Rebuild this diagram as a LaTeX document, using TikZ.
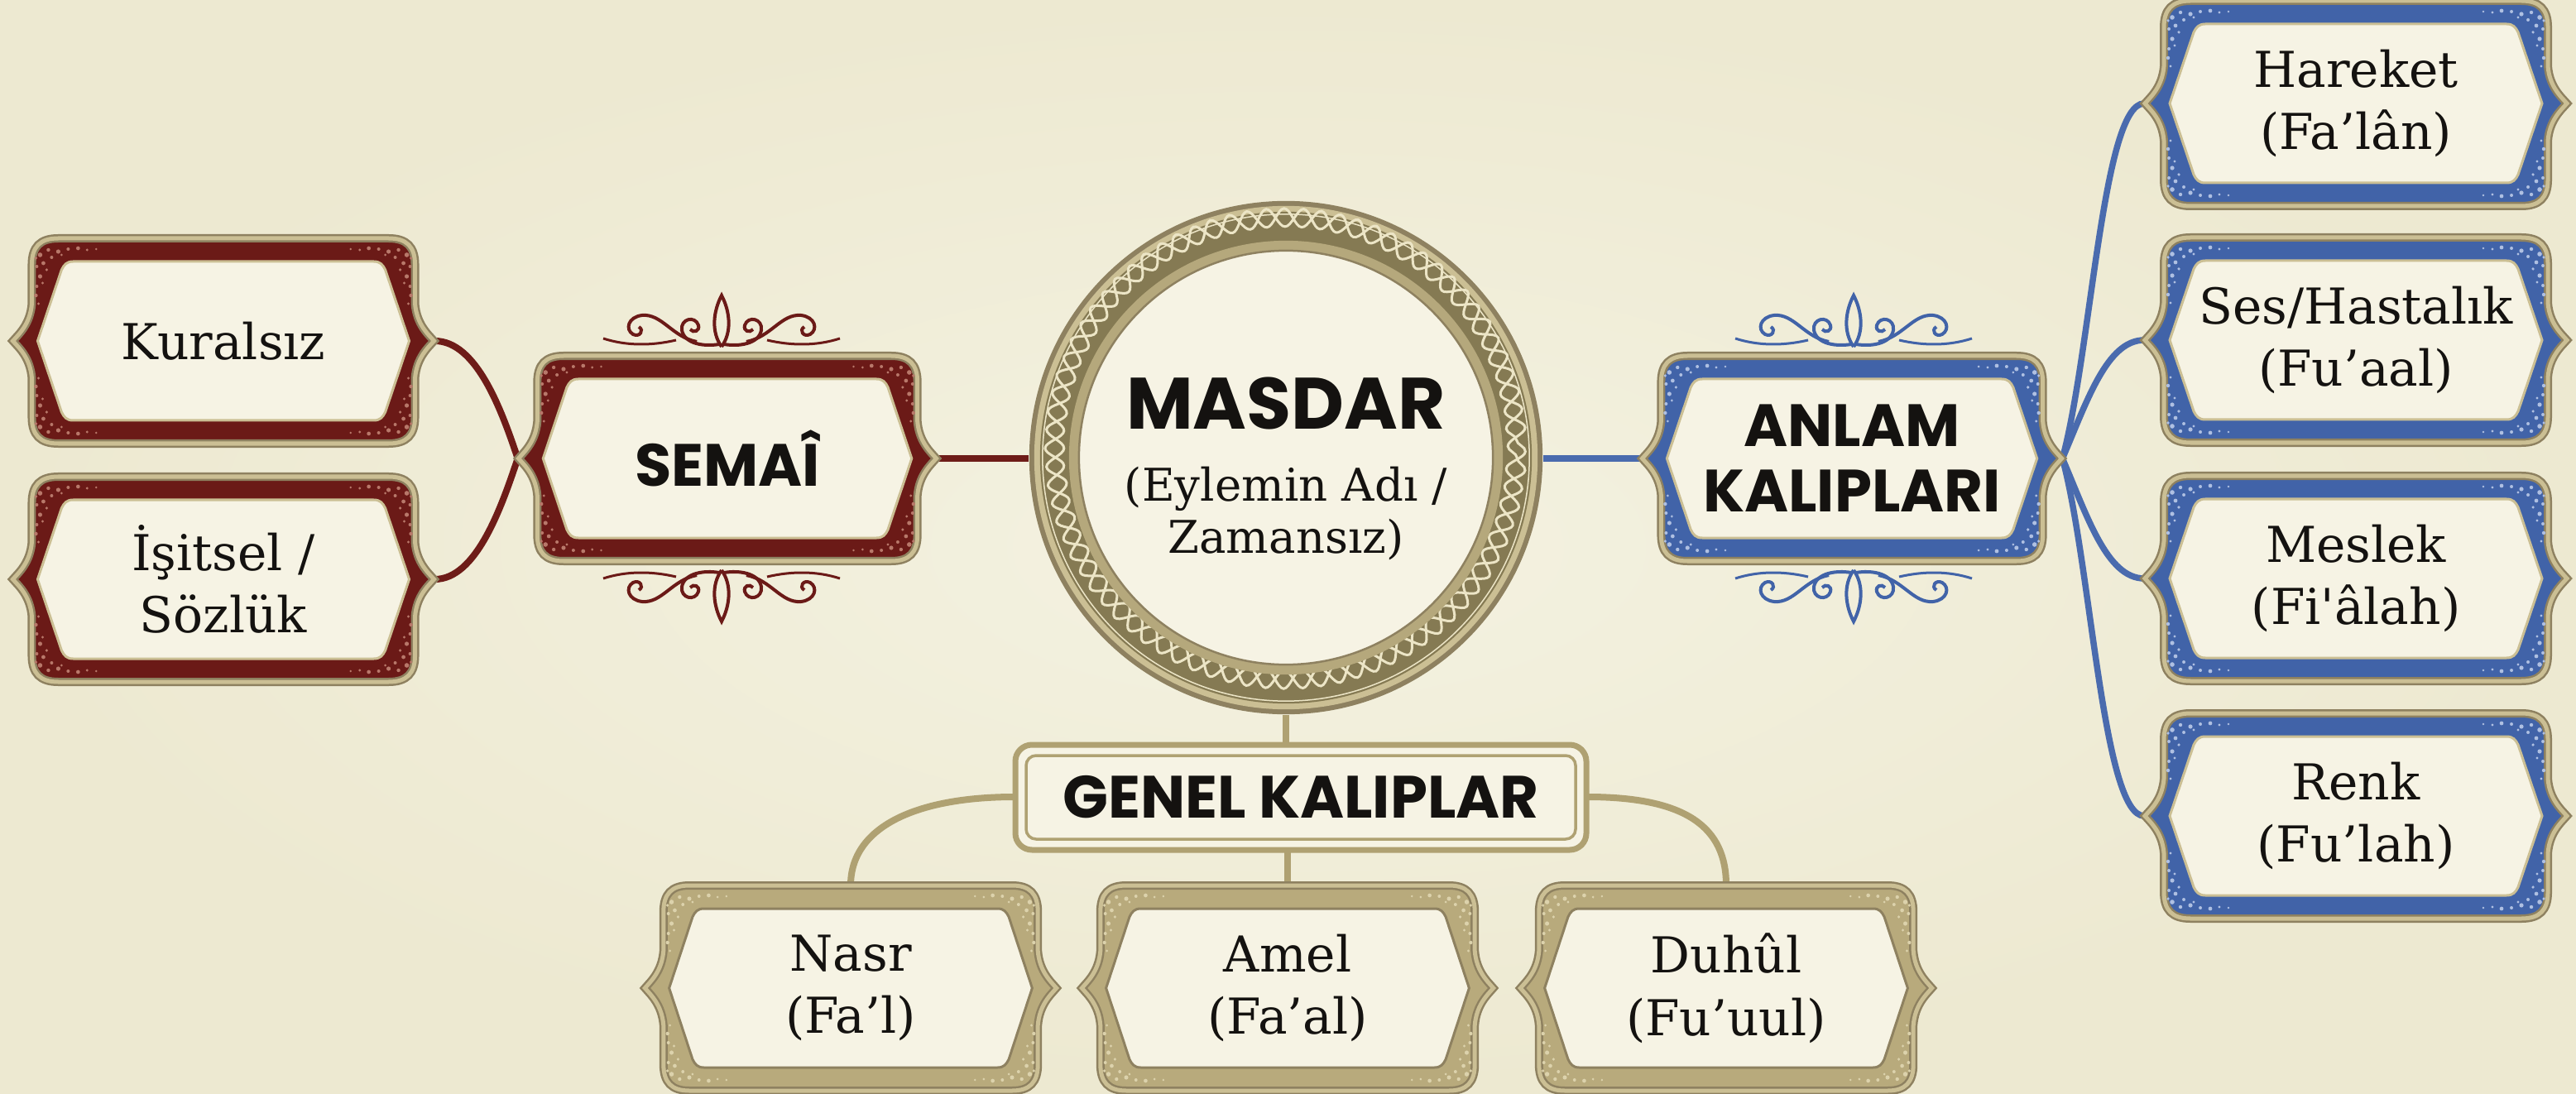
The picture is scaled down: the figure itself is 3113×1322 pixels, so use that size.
\documentclass[tikz,border=0pt]{standalone}
\usepackage{fontspec}
\setmainfont{DejaVu Serif}
\newfontfamily\popb{Poppins}
\usetikzlibrary{decorations.pathmorphing}
\definecolor{bgin}{HTML}{F4F2E1}
\definecolor{bgout}{HTML}{EDE9D1}
\definecolor{cream}{HTML}{F6F3E4}
\definecolor{redf}{HTML}{6B1A17}
\definecolor{redsp}{HTML}{B8786A}
\definecolor{bluef}{HTML}{4163A8}
\definecolor{bluesp}{HTML}{AFC0E2}
\definecolor{goldf}{HTML}{B8AA7C}
\definecolor{goldsp}{HTML}{DCD2AC}
\definecolor{rimdark}{HTML}{8E8160}
\definecolor{rimlight}{HTML}{CBBF94}
\definecolor{ringdark}{HTML}{857A53}
\definecolor{ringmid}{HTML}{B5A87C}
\definecolor{ringcream}{HTML}{ECE5C6}
\definecolor{ink}{HTML}{141210}
\definecolor{redline}{HTML}{6E1C18}
\definecolor{blueline}{HTML}{4A6BAE}
\definecolor{goldline}{HTML}{AFA172}

\def\outerpath{(0,-124) -- (200,-124) .. controls (222,-124) and (232,-114) .. (232,-92) -- (232,-45) .. controls (234,-20) and (248,-8) .. (255,0) .. controls (248,8) and (234,20) .. (232,45) -- (232,92) .. controls (232,114) and (222,124) .. (200,124) -- (-200,124) .. controls (-222,124) and (-232,114) .. (-232,92) -- (-232,45) .. controls (-234,20) and (-248,8) .. (-255,0) .. controls (-248,-8) and (-234,-20) .. (-232,-45) -- (-232,-92) .. controls (-232,-114) and (-222,-124) .. (-200,-124) -- cycle}
\def\innerpath{(-182,-96) -- (182,-96) .. controls (190,-96) and (193,-92) .. (196,-86) -- (225,0) -- (196,86) .. controls (193,92) and (190,96) .. (182,96) -- (-182,96) .. controls (-190,96) and (-193,92) .. (-196,86) -- (-225,0) -- (-196,-86) .. controls (-193,-92) and (-190,-96) .. (-182,-96) -- cycle}
\newcommand\speckset{\foreach \p/\r in {(200,-108)/2.6,(212,-110)/2.2,(222,-104)/2.8,(208,-101)/2,(218,-94)/2.4,(226,-90)/2,(214,-86)/1.8,(222,-78)/2.6,(226,-66)/2,(219,-70)/1.6,(227,-55)/2.2,(188,-111)/2,(176,-112)/2.4,(165,-110)/1.6,(227,-100)/1.8,(224,-45)/1.6,(196,-104)/1.6,(154,-111)/1.4}
  \fill \p circle (\r);}
\newcommand\deco[5]{%
\begin{scope}[shift={#1},xscale=#2]
\fill[#3] \outerpath;
\draw[rimdark,line width=0.1cm] \outerpath;
\draw[rimlight,line width=0.05cm] \outerpath;
\begin{scope}[#4]\speckset\end{scope}
\begin{scope}[#4,xscale=-1]\speckset\end{scope}
\begin{scope}[#4,yscale=-1]\speckset\end{scope}
\begin{scope}[#4,scale=-1]\speckset\end{scope}
\fill[cream] \innerpath;
\draw[#5,line width=0.03cm] \innerpath;
\end{scope}}

\begin{document}
\begin{tikzpicture}[x=0.01cm,y=-0.01cm,
  box/.style={rectangle,inner sep=0pt,minimum height=2.47cm,align=center,text=ink,font=\fontsize{17}{21.5}\selectfont},
  boldbox/.style={box,font=\popb\bfseries\fontsize{20.5}{22.5}\selectfont},
  redc/.style={draw=redline,line width=0.08cm},
  bluec/.style={draw=blueline,line width=0.075cm},
  goldc/.style={draw=goldline,line width=0.08cm},
  orn/.pic={
    \draw[line width=0.04cm] (0,-2) .. controls (-13,-20) and (-10,-45) .. (0,-64) .. controls (10,-45) and (13,-20) .. (0,-2);
    \foreach \s in {1,-1}{
      \begin{scope}[xscale=\s]
      \draw[line width=0.04cm] (-3,-5) .. controls (-20,-2) and (-45,-5) .. (-48,-22) .. controls (-50,-36) and (-32,-40) .. (-28,-28) .. controls (-26,-21) and (-34,-18) .. (-38,-23);
      \draw[line width=0.04cm] (-30,-8) .. controls (-60,-14) and (-72,-42) .. (-96,-40) .. controls (-113,-38) and (-117,-23) .. (-107,-17) .. controls (-99,-13) and (-93,-22) .. (-100,-26);
      \draw[line width=0.03cm] (-55,-10) .. controls (-85,-3) and (-115,-3) .. (-143,-12);
      \end{scope}}
  }]
\useasboundingbox (0,0) rectangle (3113,1322);
\shade[inner color=bgin,outer color=bgout] (0,0) rectangle (3113,1322);

% anchor nodes
\node[box,minimum width=5.09cm] (kural) at (270,412) {};
\node[box,minimum width=5.09cm] (isitsel) at (270,700) {};
\node[box,minimum width=5.05cm] (semai) at (879,554) {};
\node[circle,inner sep=0pt,minimum size=6.2cm] (masdar) at (1554,553) {};
\node[box,minimum width=5.07cm] (anlam) at (2238,554) {};
\node[box,minimum width=5.1cm] (hareket) at (2847,125) {};
\node[box,minimum width=5.1cm] (ses) at (2847,411) {};
\node[box,minimum width=5.1cm] (meslek) at (2847,699) {};
\node[box,minimum width=5.1cm] (renk) at (2847,986) {};
\node[rectangle,inner sep=0pt,minimum width=6.9cm,minimum height=1.27cm] (genel) at (1572,963) {};
\node[box,minimum width=4.97cm] (nasr) at (1028,1194) {};
\node[box,minimum width=4.97cm] (amel) at (1556,1194) {};
\node[box,minimum width=4.97cm] (duhul) at (2086,1194) {};

% connectors
\draw[redc] (kural.east) .. controls +(50,0) and +(-20,-60) .. (semai.west);
\draw[redc] (isitsel.east) .. controls +(50,0) and +(-20,60) .. (semai.west);
\draw[redc] (semai.east) -- (semai.east -| masdar.west);
\draw[bluec] (masdar.east |- anlam.west) -- (anlam.west);
\draw[bluec] (anlam.east) .. controls +(35,-130) and +(-50,0) .. (hareket.west);
\draw[bluec] (anlam.east) .. controls +(30,-70) and +(-45,0) .. (ses.west);
\draw[bluec] (anlam.east) .. controls +(30,70) and +(-45,0) .. (meslek.west);
\draw[bluec] (anlam.east) .. controls +(35,130) and +(-50,0) .. (renk.west);
\draw[goldc] (masdar.south) -- (masdar.south |- genel.north);
\draw[goldc] (genel.south -| amel.north) -- (amel.north);
\draw[goldc] (genel.west) .. controls +(-120,0) and +(0,-70) .. (nasr.north);
\draw[goldc] (genel.east) .. controls +(120,0) and +(0,-70) .. (duhul.north);

% frames
\deco{(270,412)}{0.998}{redf}{redsp}{rimlight}
\deco{(270,700)}{0.998}{redf}{redsp}{rimlight}
\deco{(879,554)}{0.99}{redf}{redsp}{rimlight}
\deco{(2238,554)}{0.994}{bluef}{bluesp}{rimlight}
\deco{(2847,125)}{1}{bluef}{bluesp}{rimlight}
\deco{(2847,411)}{1}{bluef}{bluesp}{rimlight}
\deco{(2847,699)}{1}{bluef}{bluesp}{rimlight}
\deco{(2847,986)}{1}{bluef}{bluesp}{rimlight}
\deco{(1028,1194)}{0.975}{goldf}{goldsp}{rimdark}
\deco{(1556,1194)}{0.975}{goldf}{goldsp}{rimdark}
\deco{(2086,1194)}{0.975}{goldf}{goldsp}{rimdark}

% ornaments
\pic[redf] at (872,421) {orn};
\pic[redf,yscale=-1] at (872,687) {orn};
\pic[bluef] at (2240,421) {orn};
\pic[bluef,yscale=-1] at (2240,687) {orn};

% GENEL box
\draw[goldline,line width=0.07cm,rounded corners=0.2cm,fill=cream] (1227,900) rectangle (1917,1027);
\draw[goldline,line width=0.035cm,rounded corners=0.12cm] (1240,913) rectangle (1904,1014);

% central circle
\fill[rimdark] (1554,553) circle [radius=3.1cm];
\fill[rimlight] (1554,553) circle [radius=3.04cm];
\fill[ringdark] (1554,553) circle [radius=2.97cm];
\draw[ringcream,line width=0.03cm,decorate,decoration={snake,amplitude=0.11cm,segment length=0.4367cm}] (1554,553) circle [radius=2.79cm];
\draw[ringcream,line width=0.03cm,decorate,decoration={snake,amplitude=0.11cm,segment length=0.4367cm},rotate around={4.5:(1554,553)}] (1554,553) circle [radius=2.79cm];
\draw[ringcream,line width=0.015cm] (1554,553) circle [radius=2.94cm];
\fill[ringmid] (1554,553) circle [radius=2.62cm];
\fill[cream] (1554,553) circle [radius=2.50cm];
\draw[rimdark,line width=0.025cm] (1554,553) circle [radius=2.50cm];

% texts
\node[box] (kuraltxt) at (kural) {Kuralsız};
\node[box] (isitseltxt) at (isitsel) {İşitsel /\\Sözlük};
\node[boldbox] (semaitxt) at (semai) {SEMAÎ};
\node[boldbox] (anlamtxt) at (anlam) {ANLAM\\KALIPLARI};
\node[box] (harekettxt) at (hareket) {Hareket\\(Fa’lân)};
\node[box] (sestxt) at (ses) {Ses/Hastalık\\(Fu’aal)};
\node[box] (meslektxt) at (meslek) {Meslek\\(Fi\textquotesingle âlah)};
\node[box] (renktxt) at (renk) {Renk\\(Fu’lah)};
\node[boldbox,minimum height=0pt] (geneltxt) at (genel) {GENEL KALIPLAR};
\node[box] (nasrtxt) at (nasr) {Nasr\\(Fa’l)};
\node[box] (ameltxt) at (amel) {Amel\\(Fa’al)};
\node[box] (duhultxt) at (duhul) {Duhûl\\(Fu’uul)};
\node[anchor=base,text=ink,font=\popb\bfseries\fontsize{25}{30}\selectfont] (mt1) at (1554,519) {MASDAR};
\node[anchor=base,text=ink,font=\fontsize{15.5}{19}\selectfont] (mt2) at (1554,606) {(Eylemin Adı /};
\node[anchor=base,text=ink,font=\fontsize{15.5}{19}\selectfont] (mt3) at (1554,668) {Zamansız)};
\end{tikzpicture}
\end{document}
